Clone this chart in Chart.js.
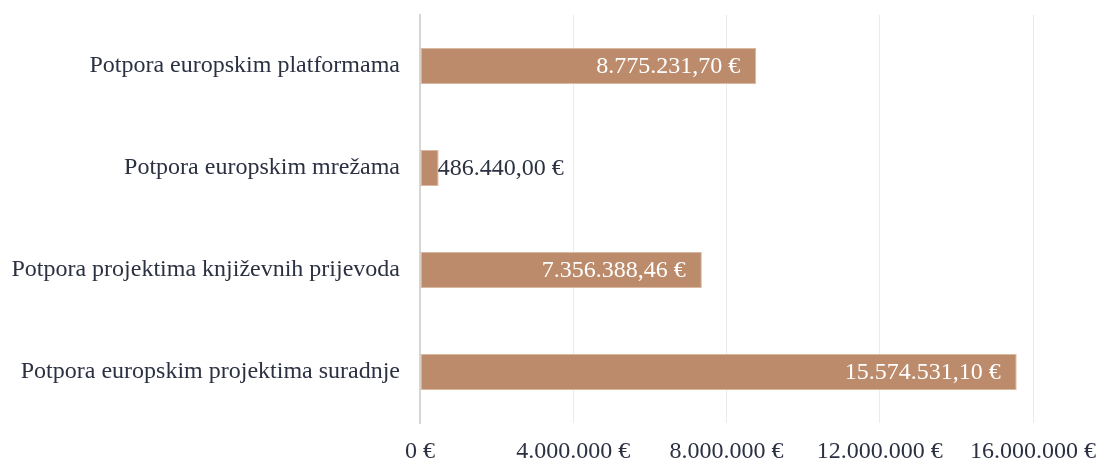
<!DOCTYPE html>
<html>
<head>
<meta charset="utf-8">
<script src="https://cdn.jsdelivr.net/npm/chart.js@4.4.1/dist/chart.umd.min.js"></script>
<style>
  html, body { margin: 0; padding: 0; background: #fff; }
  #wrap { width: 1100px; height: 462px; }
</style>
</head>
<body>
<div id="wrap"><canvas id="chartPotpore"></canvas></div>
<script>
const categories = [
  'Potpora europskim platformama',
  'Potpora europskim mrežama',
  'Potpora projektima književnih prijevoda',
  'Potpora europskim projektima suradnje'
];
const amounts = [8775231.70, 486440.00, 7356388.46, 15574531.10];
const xTicks = [0, 4000000, 8000000, 12000000, 16000000];

const FONT = "'Liberation Serif', 'Times New Roman', serif";
const TEXT = '#2c3142';
const BAR = '#bb8b6b';

function formatEur(v, dec) {
  return v.toLocaleString('de-DE', { minimumFractionDigits: dec, maximumFractionDigits: dec }) + ' €';
}

// value labels: inside the bar end in white, outside in dark when the bar is too short
const valueLabels = {
  id: 'valueLabels',
  afterDatasetsDraw(chart) {
    const ctx = chart.ctx;
    const meta = chart.getDatasetMeta(0);
    ctx.save();
    ctx.font = '24px ' + FONT;
    ctx.textBaseline = 'middle';
    meta.data.forEach((bar, i) => {
      const txt = formatEur(amounts[i], 2);
      const w = ctx.measureText(txt).width;
      const barLen = bar.x - bar.base;
      if (barLen > w + 24) {
        ctx.fillStyle = '#ffffff';
        ctx.textAlign = 'right';
        ctx.fillText(txt, bar.x - 16, bar.y + 1);
      } else {
        ctx.fillStyle = TEXT;
        ctx.textAlign = 'left';
        ctx.fillText(txt, bar.x - 1, bar.y + 1);
      }
    });
    ctx.restore();
  }
};

new Chart(document.getElementById('chartPotpore'), {
  type: 'bar',
  data: {
    labels: categories,
    datasets: [{
      data: amounts,
      backgroundColor: BAR,
      borderColor: '#d9b9a2',
      borderWidth: 1,
      borderSkipped: false,
      barPercentage: 0.353,
      categoryPercentage: 1
    }]
  },
  options: {
    indexAxis: 'y',
    responsive: true,
    maintainAspectRatio: false,
    animation: false,
    layout: { padding: { top: 15, right: 67, left: 0, bottom: 0 } },
    plugins: {
      legend: { display: false },
      tooltip: { enabled: false }
    },
    scales: {
      x: {
        min: 0,
        max: 16000000,
        afterBuildTicks(scale) { scale.ticks = xTicks.map(v => ({ value: v })); },
        afterFit(scale) {
          scale.height = 39;
          scale.paddingLeft = 0;
          scale.paddingRight = 0;
        },
        grid: { color: '#ecebe6', lineWidth: 1, drawTicks: false },
        border: { display: false },
        ticks: {
          padding: 14,
          color: TEXT,
          font: { family: FONT, size: 24 },
          maxRotation: 0,
          callback: v => formatEur(v, 0)
        }
      },
      y: {
        afterFit(scale) {
          scale.width = 420;
          scale.paddingTop = 0;
          scale.paddingBottom = 0;
        },
        grid: { display: false, drawTicks: false },
        border: { display: true, color: '#d6d6d6', width: 2 },
        ticks: {
          padding: 20,
          color: TEXT,
          font: { family: FONT, size: 24 }
        }
      }
    }
  },
  plugins: [valueLabels]
});
</script>
</body>
</html>
